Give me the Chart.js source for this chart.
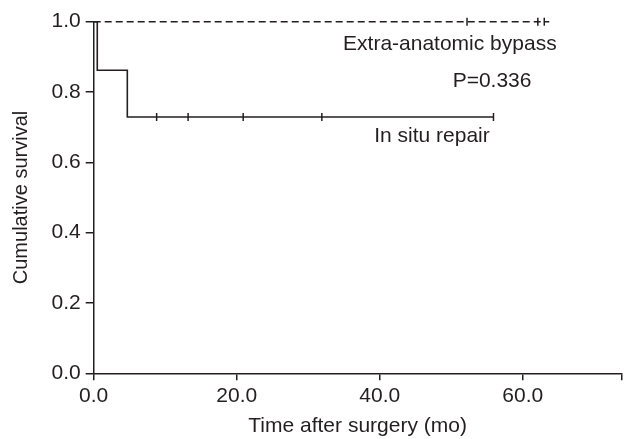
<!DOCTYPE html>
<html>
<head>
<meta charset="utf-8">
<script src="https://cdn.jsdelivr.net/npm/chart.js@4"></script>
<style>
  body { margin: 0; background: #fff; }
  #wrap { width: 627px; height: 439px; }
</style>
</head>
<body>
<div id="wrap"><canvas id="km-chart"></canvas></div>
<script>
// Kaplan-Meier curves
const inSituTimes = [0, 0.5, 4.7, 55.9];
const inSituSurv = [1.0, 0.862, 0.729, 0.729];
const inSituCensor = [8.8, 13.2, 20.9, 31.9, 55.9];

const extraTimes = [0, 63.7];
const extraSurv = [1.0, 1.0];
const extraCensor = [52.2, 62.1, 63.0];

const xTickValues = [0, 20, 40, 60];
const xMax = 73.8;

// text notes in data coordinates
const noteTexts = ['Extra-anatomic bypass', 'P=0.336', 'In situ repair'];
const noteX = [49.8, 55.7, 47.3];
const noteY = [0.92, 0.813, 0.657];

const ink = '#231f20';
const font = 'Liberation Sans, Arial, Helvetica, sans-serif';

const toPoints = (xs, ys) => xs.map((x, i) => ({ x: x, y: ys[i] }));
const censorPoints = (times, xs, ys) => times.map(t => {
  let y = ys[0];
  xs.forEach((x, i) => { if (x <= t) y = ys[i]; });
  return { x: t, y: y };
});

const notesPlugin = {
  id: 'notes',
  afterDatasetsDraw(chart) {
    const ctx = chart.ctx;
    const xs = chart.scales.x;
    const ys = chart.scales.y;
    ctx.save();
    ctx.fillStyle = ink;
    ctx.font = '21px ' + font;
    ctx.textAlign = 'center';
    ctx.textBaseline = 'alphabetic';
    noteTexts.forEach((t, i) => {
      ctx.fillText(t, xs.getPixelForValue(noteX[i]), ys.getPixelForValue(noteY[i]));
    });
    ctx.restore();
  }
};

const censorStyle = {
  type: 'scatter',
  showLine: false,
  clip: false,
  pointStyle: 'line',
  rotation: 90,
  pointRadius: 4,
  pointBorderWidth: 1.5,
  pointBorderColor: ink,
  pointBackgroundColor: ink
};

new Chart(document.getElementById('km-chart'), {
  type: 'line',
  plugins: [notesPlugin],
  data: {
    datasets: [
      {
        label: 'Extra-anatomic bypass',
        data: toPoints(extraTimes, extraSurv),
        stepped: true,
        clip: false,
        borderColor: ink,
        borderWidth: 1.5,
        borderDash: [7, 4],
        pointRadius: 0,
        fill: false
      },
      {
        label: 'In situ repair',
        data: toPoints(inSituTimes, inSituSurv),
        stepped: true,
        clip: false,
        borderColor: ink,
        borderWidth: 1.6,
        pointRadius: 0,
        fill: false
      },
      Object.assign({ label: 'Extra censored', data: censorPoints(extraCensor, extraTimes, extraSurv) }, censorStyle),
      Object.assign({ label: 'In situ censored', data: censorPoints(inSituCensor, inSituTimes, inSituSurv) }, censorStyle)
    ]
  },
  options: {
    responsive: true,
    maintainAspectRatio: false,
    animation: false,
    layout: { padding: { top: 21.7, right: 1.7, left: 0, bottom: 0 } },
    plugins: {
      legend: { display: false },
      tooltip: { enabled: false }
    },
    scales: {
      x: {
        type: 'linear',
        min: 0,
        max: xMax,
        afterBuildTicks: scale => {
          scale.ticks = xTickValues.concat([xMax]).map(v => ({ value: v }));
        },
        afterFit: scale => { scale.height = 65.7; },
        border: { color: ink, width: 1.5 },
        grid: { drawOnChartArea: false, drawTicks: true, tickLength: 7, color: ink, lineWidth: 1.5 },
        ticks: {
          color: ink,
          font: { family: font, size: 21 },
          padding: 3,
          maxRotation: 0,
          autoSkip: false,
          callback: v => (v === xMax ? '' : v.toFixed(1))
        },
        title: {
          display: true,
          text: 'Time after surgery (mo)',
          color: ink,
          font: { family: font, size: 21 },
          padding: { top: 0, bottom: 0 }
        }
      },
      y: {
        min: 0,
        max: 1,
        afterFit: scale => { scale.width = 93.7; },
        border: { color: ink, width: 1.5 },
        grid: { drawOnChartArea: false, drawTicks: true, tickLength: 8, color: ink, lineWidth: 1.5 },
        ticks: {
          stepSize: 0.2,
          color: ink,
          font: { family: font, size: 21 },
          padding: 5,
          callback: v => v.toFixed(1)
        },
        title: {
          display: true,
          text: 'Cumulative survival',
          color: ink,
          font: { family: font, size: 20 },
          padding: { top: 9, bottom: 0 }
        }
      }
    }
  }
});
</script>
</body>
</html>
